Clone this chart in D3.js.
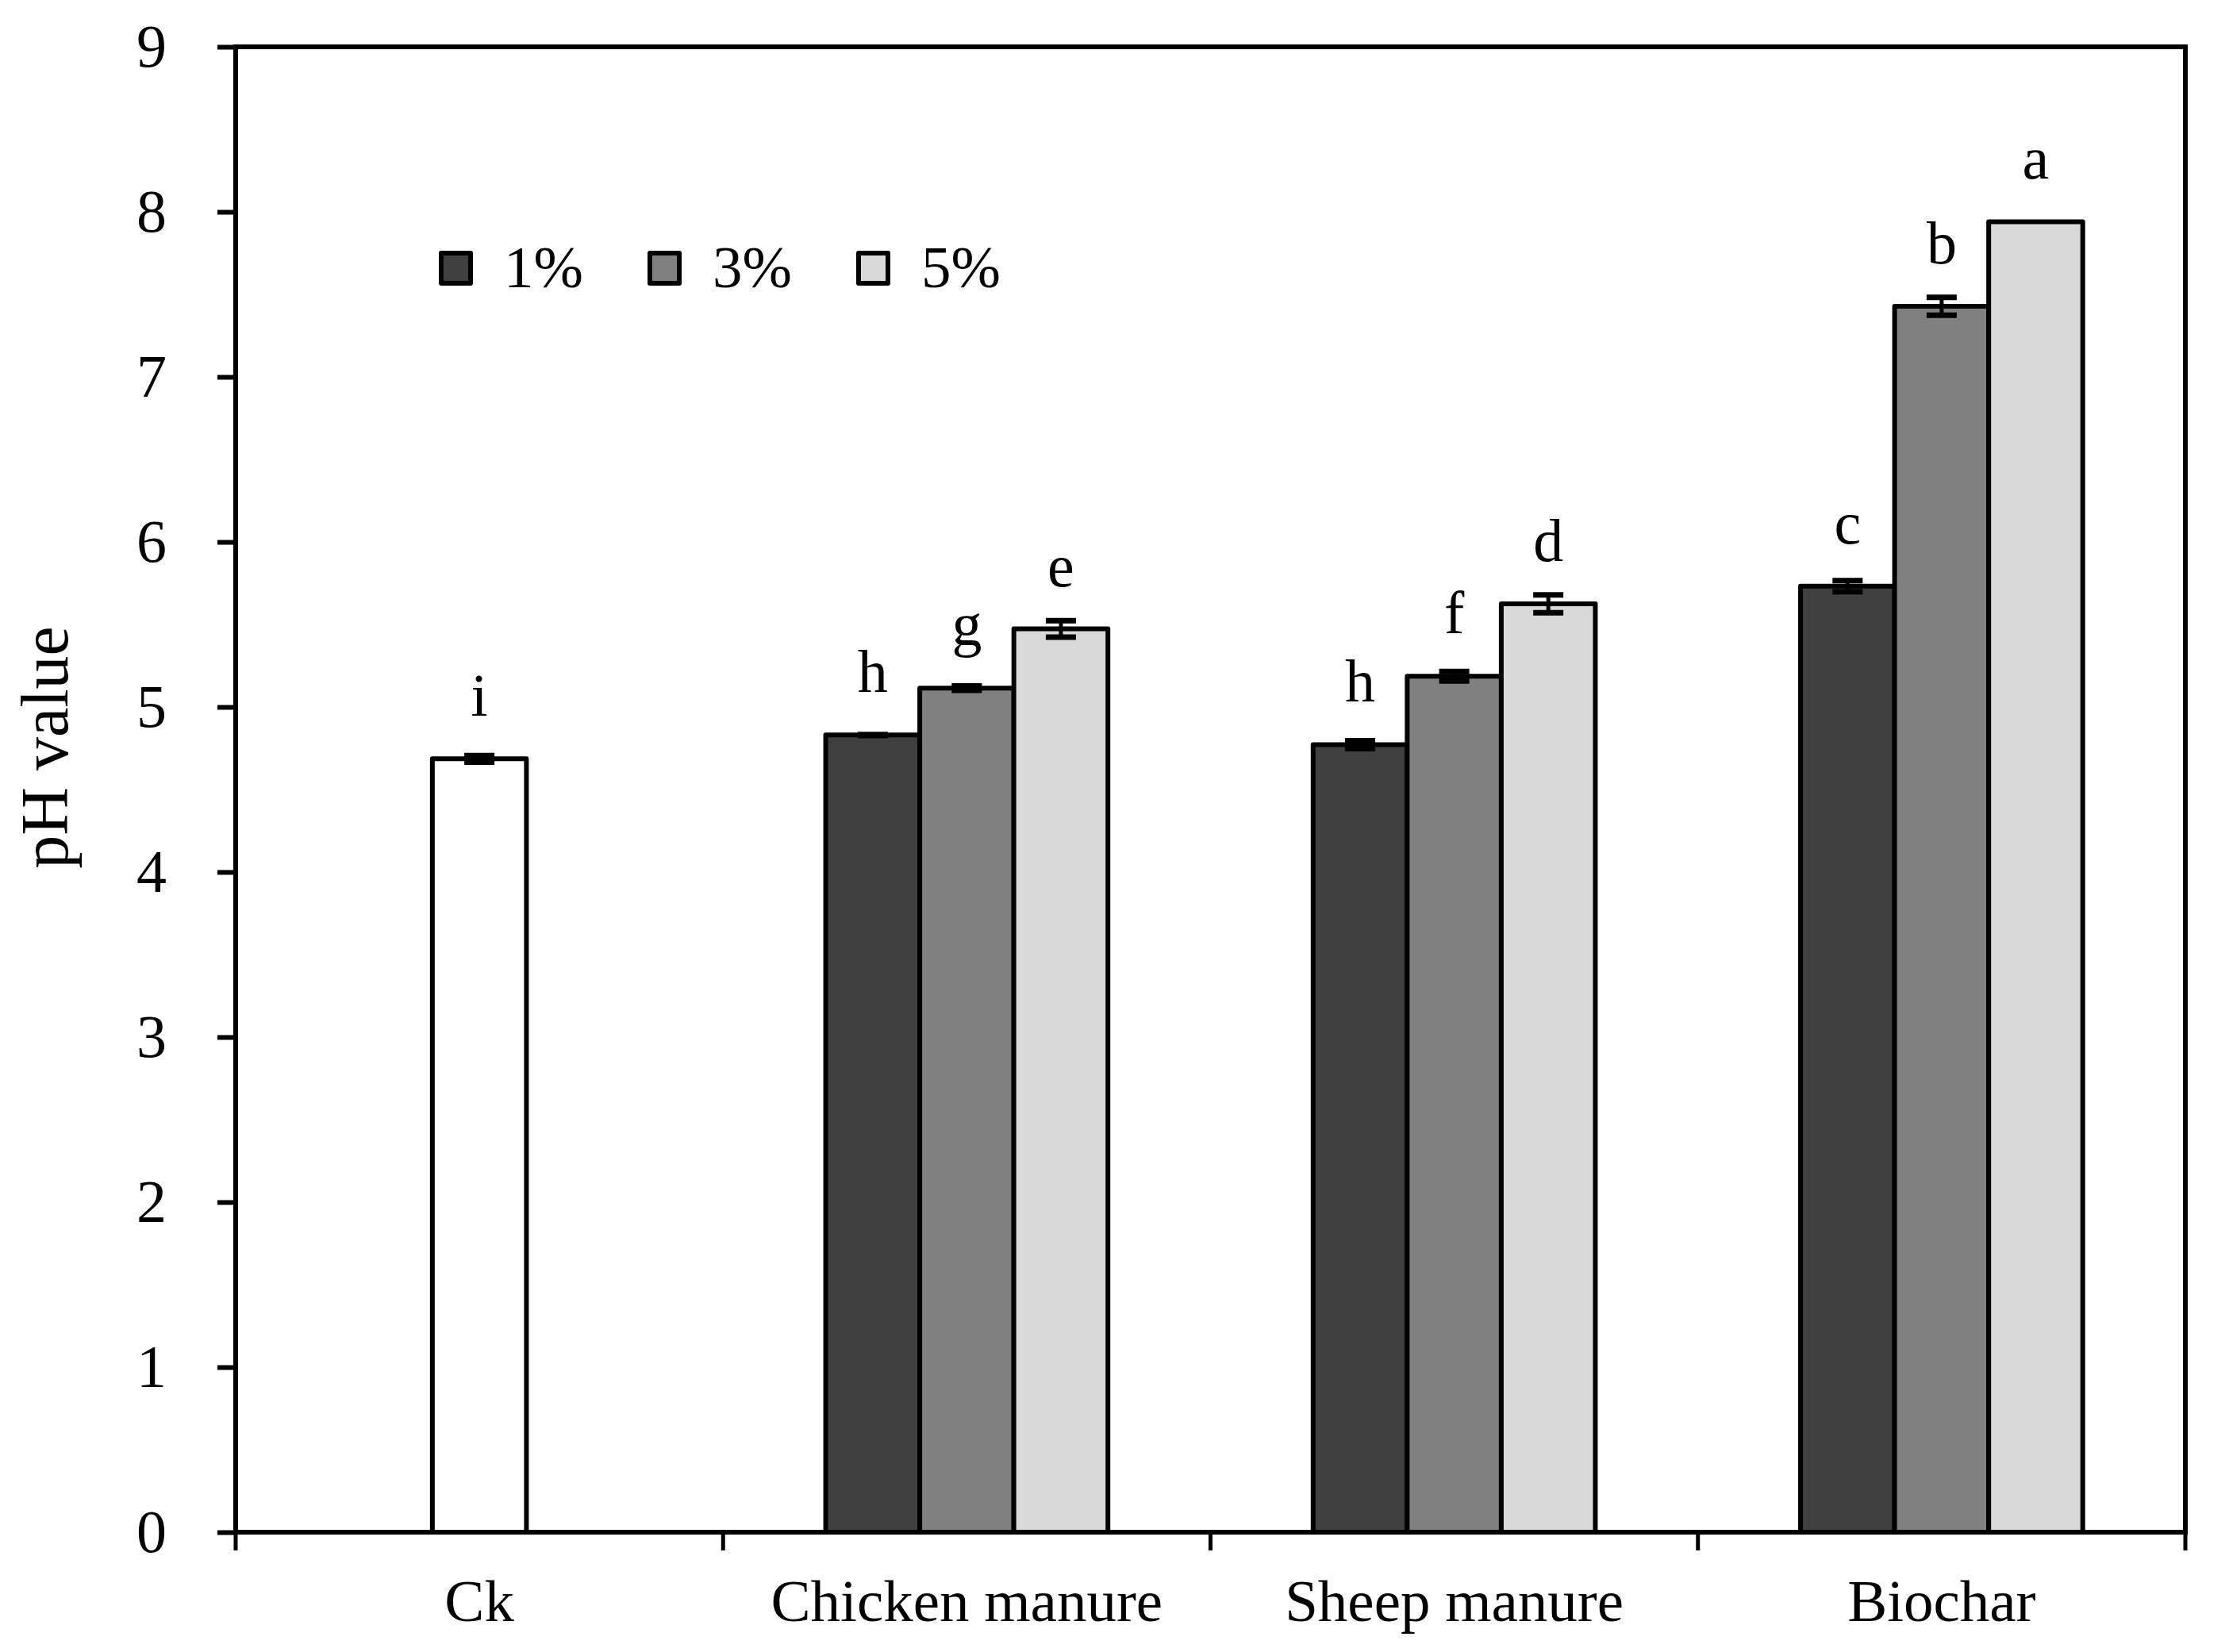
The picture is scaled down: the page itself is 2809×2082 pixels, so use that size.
<!DOCTYPE html>
<html>
<head>
<meta charset="utf-8">
<script src="https://cdn.jsdelivr.net/npm/d3@7"></script>
<style>
  html, body { margin: 0; padding: 0; background: #fff; }
  svg { display: block; }
  text { font-family: "Liberation Serif", "Times New Roman", serif; fill: #000; }
</style>
</head>
<body>
<svg id="chart" width="2809" height="2082"></svg>
<script>
// ---- data ----
const categories = ["Ck", "Chicken manure", "Sheep manure", "Biochar"];
const series = ["1%", "3%", "5%"];
const seriesColors = ["#404040", "#808080", "#d9d9d9"];
const ckColor = "#ffffff";

const ckValue = [4.686];
const ckErr = [0.02];
const ckLetter = ["i"];

const amendments = ["Chicken manure", "Sheep manure", "Biochar"];
const pct1 = [4.83, 4.772, 5.732];
const err1 = [0.003, 0.024, 0.034];
const letters1 = ["h", "h", "c"];
const pct3 = [5.114, 5.186, 7.428];
const err3 = [0.013, 0.029, 0.054];
const letters3 = ["g", "f", "b"];
const pct5 = [5.473, 5.625, 7.94];
const err5 = [0.05, 0.054, 0];
const letters5 = ["e", "d", "a"];

const yTicks = [0, 1, 2, 3, 4, 5, 6, 7, 8, 9];
const yTitle = "pH value";

// ---- build records ----
const seriesVals = [pct1, pct3, pct5];
const seriesErr = [err1, err3, err5];
const seriesLet = [letters1, letters3, letters5];
const bars = [{cat: "Ck", s: null, v: ckValue[0], e: ckErr[0], l: ckLetter[0], fill: ckColor}];
amendments.forEach((c, i) => {
  series.forEach((s, j) => {
    bars.push({cat: c, s: s, v: seriesVals[j][i], e: seriesErr[j][i], l: seriesLet[j][i], fill: seriesColors[j]});
  });
});

// ---- layout ----
const L = 297, R = 2754, T = 59, B = 1931;
const svg = d3.select("#chart");

const x = d3.scaleBand().domain(categories).range([L, R]).padding(0);
const y = d3.scaleLinear().domain([0, 9]).range([B, T]);
const bw = x.bandwidth() * 0.193;
const xs = d3.scaleBand().domain(series).range([-1.5 * bw, 1.5 * bw]).padding(0);

function barX(d) {
  if (d.s === null) return x(d.cat) + x.bandwidth() / 2 - bw / 2;
  return x(d.cat) + x.bandwidth() / 2 + xs(d.s);
}

// bars
svg.append("g").selectAll("rect").data(bars).join("rect")
  .attr("x", barX)
  .attr("y", d => y(d.v))
  .attr("width", bw)
  .attr("height", d => y(0) - y(d.v))
  .attr("fill", d => d.fill)
  .attr("stroke", "#000")
  .attr("stroke-width", 6)
  .attr("stroke-linejoin", "round");

// error bars
const eb = svg.append("g").selectAll("g").data(bars.filter(d => d.e > 0)).join("g");
const capW = 38;
eb.append("line")
  .attr("x1", d => barX(d) + bw / 2).attr("x2", d => barX(d) + bw / 2)
  .attr("y1", d => y(d.v + d.e)).attr("y2", d => y(d.v - d.e))
  .attr("stroke", "#000").attr("stroke-width", 5);
eb.append("line")
  .attr("x1", d => barX(d) + bw / 2 - capW / 2).attr("x2", d => barX(d) + bw / 2 + capW / 2)
  .attr("y1", d => y(d.v + d.e)).attr("y2", d => y(d.v + d.e))
  .attr("stroke", "#000").attr("stroke-width", 7);
eb.append("line")
  .attr("x1", d => barX(d) + bw / 2 - capW / 2).attr("x2", d => barX(d) + bw / 2 + capW / 2)
  .attr("y1", d => y(d.v - d.e)).attr("y2", d => y(d.v - d.e))
  .attr("stroke", "#000").attr("stroke-width", 7);

// significance letters
svg.append("g").selectAll("text").data(bars).join("text")
  .attr("x", d => barX(d) + bw / 2)
  .attr("y", d => y(d.v) - 54)
  .attr("text-anchor", "middle")
  .attr("font-size", 76)
  .text(d => d.l);

// frame
svg.append("rect")
  .attr("x", L).attr("y", T).attr("width", R - L).attr("height", B - T)
  .attr("fill", "none").attr("stroke", "#000").attr("stroke-width", 6);

// y axis
const yAxis = svg.append("g").attr("transform", `translate(${L},0)`)
  .call(d3.axisLeft(y).tickValues(yTicks).tickSize(23).tickPadding(64).tickFormat(d3.format("d")));
yAxis.select(".domain").remove();
yAxis.selectAll(".tick line").attr("stroke", "#000").attr("stroke-width", 6);
yAxis.selectAll(".tick text").attr("font-size", 76).attr("font-family", "Liberation Serif, serif").attr("fill", "#000");

// x axis boundary ticks
const bounds = categories.map(c => x(c)).concat([x(categories[categories.length - 1]) + x.bandwidth()]);
svg.append("g").selectAll("line").data(bounds).join("line")
  .attr("x1", d => d).attr("x2", d => d)
  .attr("y1", B).attr("y2", B + 23)
  .attr("stroke", "#000").attr("stroke-width", 5);

// x labels
svg.append("g").selectAll("text").data(categories).join("text")
  .attr("x", d => x(d) + x.bandwidth() / 2)
  .attr("y", 2043)
  .attr("text-anchor", "middle")
  .attr("font-size", 75)
  .text(d => d);

// y title
svg.append("text")
  .attr("transform", "translate(85,942) rotate(-90)")
  .attr("text-anchor", "middle")
  .attr("font-size", 84)
  .text(yTitle);

// legend
const legX = d3.scaleOrdinal().domain(series).range([556, 819, 1082]);
const lg = svg.append("g").selectAll("g").data(series).join("g");
lg.append("rect")
  .attr("x", d => legX(d)).attr("y", 319)
  .attr("width", 37).attr("height", 38)
  .attr("fill", (d, i) => seriesColors[i])
  .attr("stroke", "#000").attr("stroke-width", 6).attr("stroke-linejoin", "round");
lg.append("text")
  .attr("x", d => legX(d) + 79)
  .attr("y", 362)
  .attr("font-size", 75)
  .text(d => d);
</script>
</body>
</html>
